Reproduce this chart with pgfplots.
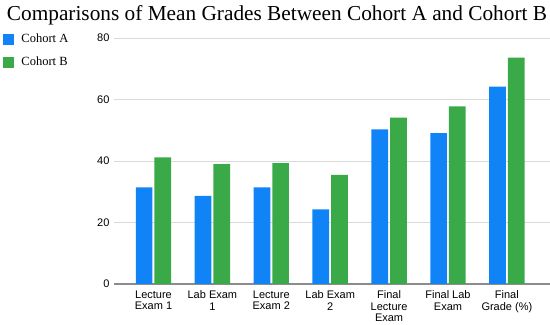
\documentclass[border=0pt]{standalone}
\usepackage{pgfplots}
\pgfplotsset{compat=1.18}
\usepackage{fontspec}
\setmainfont{Liberation Serif}
\newfontfamily\arial{Liberation Sans}
\definecolor{cA}{RGB}{16,132,246}
\definecolor{cB}{RGB}{58,170,72}
\definecolor{gridc}{RGB}{218,218,218}
\definecolor{basec}{RGB}{140,140,140}
\begin{document}
\begin{tikzpicture}
\useasboundingbox (0,0) rectangle (550bp,325bp);
\node[anchor=center, font=\fontsize{21.3bp}{24bp}\selectfont] at (277bp,310bp) {Comparisons of Mean Grades Between Cohort A and Cohort B};
\begin{axis}[
  at={(114bp,41bp)}, anchor=south west,
  scale only axis, width=436bp, height=246bp,
  xmin=-0.6706, xmax=6.732, ymin=0, ymax=80,
  ybar=2bp, bar width=16.7bp,
  xtick=data,
  xticklabels={Lecture\\Exam 1, Lab Exam\\1, Lecture\\Exam 2, Lab Exam\\2, Final\\Lecture\\Exam, Final Lab\\Exam, Final\\Grade (\%)},
  ytick={0,20,40,60,80},
  major tick length=0pt,
  axis line style={draw=none},
  ymajorgrids, grid style={gridc, line width=0.8pt},
  extra y ticks={0}, extra y tick labels={},
  extra y tick style={grid style={basec, line width=1.2pt}},
  /pgf/number format/assume math mode=true,
  yticklabel style={font=\arial\fontsize{11bp}{13bp}\selectfont, xshift=-1bp},
  xticklabel style={font=\arial\fontsize{11bp}{11.7bp}\selectfont, align=center, yshift=-3bp},
  legend style={at={(-0.254,1.025)}, anchor=north west, draw=none, fill=none,
    font=\fontsize{12.5bp}{14bp}\selectfont, row sep=9bp,
    legend cell align=left, inner sep=0pt},
  legend image code/.code={\fill[#1] (0bp,-5.5bp) rectangle (11bp,5.5bp); \path (16bp,0bp);},
]
\addplot[fill=cA, draw=none] coordinates {(0,31.4) (1,28.7) (2,31.4) (3,24.3) (4,50.3) (5,49.1) (6,64.2)};
\addplot[fill=cB, draw=none] coordinates {(0,41.2) (1,39.0) (2,39.3) (3,35.5) (4,54.1) (5,57.8) (6,73.6)};
\legend{Cohort A, Cohort B}
\end{axis}
\end{tikzpicture}
\end{document}
